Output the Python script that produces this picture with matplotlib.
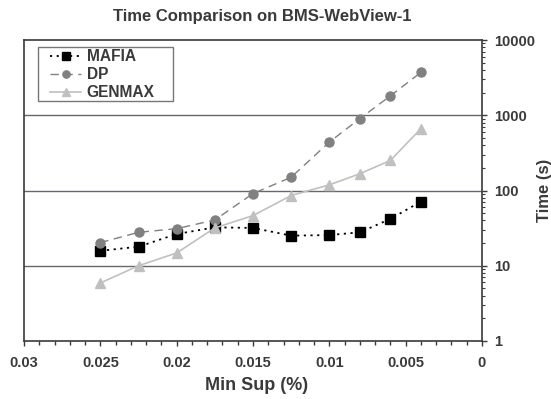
import matplotlib
matplotlib.use("Agg")
import matplotlib.pyplot as plt
from matplotlib.patches import Rectangle
from matplotlib.ticker import MultipleLocator, LogLocator, NullFormatter, FixedLocator, FixedFormatter

plt.rcParams['font.family'] = ['Liberation Sans', 'DejaVu Sans']
plt.rcParams['font.weight'] = 'bold'

min_sup = [0.025, 0.0225, 0.02, 0.0175, 0.015, 0.0125, 0.01, 0.008, 0.006, 0.004]
mafia = [15.8, 17.9, 26.4, 32.4, 31.8, 25.1, 25.6, 27.8, 41.9, 71.3]
dp = [20.3, 27.8, 31.1, 40.6, 91, 150, 440, 903, 1810, 3710]
genmax = [5.9, 10, 14.8, 31.8, 46.4, 85.8, 119, 167, 251, 664]

x_ticks = [0.03, 0.025, 0.02, 0.015, 0.01, 0.005, 0]
x_labels = ['0.03', '0.025', '0.02', '0.015', '0.01', '0.005', '0']
y_ticks = [1, 10, 100, 1000, 10000]
y_labels = ['1', '10', '100', '1000', '10000']

W, H = 551, 399
fig = plt.figure(figsize=(W/100, H/100), dpi=100)
ax = fig.add_axes([24/W, 1-341/H, (482-24)/W, (341-40)/H])

ax.plot(min_sup, mafia, color='black', linestyle=(0, (1.2, 2.5)), linewidth=1.3,
        marker='s', markersize=6.5, label='MAFIA')
ax.plot(min_sup, dp, color='#808080', linestyle=(0, (6, 4)), linewidth=1.0,
        marker='o', markersize=6.5, label='DP')
ax.plot(min_sup, genmax, color='#c0c0c0', linestyle='-', linewidth=1.2,
        marker='^', markersize=6.5, label='GENMAX')

ax.set_yscale('log')
ax.set_ylim(1, 10000)
ax.set_xlim(0.03, 0)

for yv in [10, 100, 1000]:
    ax.axhline(yv, color='#666670', linewidth=1.0, zorder=0)

ax.xaxis.set_major_locator(FixedLocator(x_ticks))
ax.xaxis.set_major_formatter(FixedFormatter(x_labels))
ax.xaxis.set_minor_locator(MultipleLocator(0.001))

ax.yaxis.tick_right()
ax.yaxis.set_major_locator(FixedLocator(y_ticks))
ax.yaxis.set_major_formatter(FixedFormatter(y_labels))
ax.yaxis.set_minor_locator(LogLocator(base=10, subs=range(2, 10)))
ax.yaxis.set_minor_formatter(NullFormatter())

tc = '#3a3a3a'
ax.tick_params(axis='x', which='major', direction='out', length=3.5, width=1, colors=tc,
               labelsize=10.5, pad=7)
ax.tick_params(axis='x', which='minor', direction='out', length=2.8, width=1, colors=tc)
ax.tick_params(axis='y', which='major', direction='out', length=3.5, width=1, colors=tc,
               labelsize=10.5, pad=5)
ax.tick_params(axis='y', which='minor', direction='out', length=2.2, width=0.8, colors=tc)

for lab in ax.get_xticklabels() + ax.get_yticklabels():
    lab.set_fontweight('bold')

for s in ax.spines.values():
    s.set_color(tc)
    s.set_linewidth(1.2)

fig.text(257/W, 1-385/H, 'Min Sup (%)', fontsize=13, fontweight='bold', color=tc,
         ha='center', va='center')
fig.text(544/W, 1-190/H, 'Time (s)', fontsize=12, fontweight='bold', color=tc,
         ha='center', va='center', rotation=90)
fig.text(262/W, 1-17/H, 'Time Comparison on BMS-WebView-1', fontsize=12, fontweight='bold',
         color=tc, ha='center', va='center')

# legend frame
ax.add_patch(Rectangle((38/W, 1-101/H), 135/W, 54/H, transform=fig.transFigure,
                       facecolor='white', edgecolor='#777777', linewidth=1.0, zorder=4))

leg = ax.legend(loc='upper left', bbox_to_anchor=((50-24)/458, (341-49)/301), borderaxespad=0,
                fontsize=11.2, frameon=False, markerscale=0.8,
                handlelength=2.0, handletextpad=0.35, borderpad=0.0, labelspacing=0.2)
leg.set_zorder(5)
for t in leg.get_texts():
    t.set_fontweight('bold')
    t.set_color(tc)

fig.savefig('out.png', dpi=100)
